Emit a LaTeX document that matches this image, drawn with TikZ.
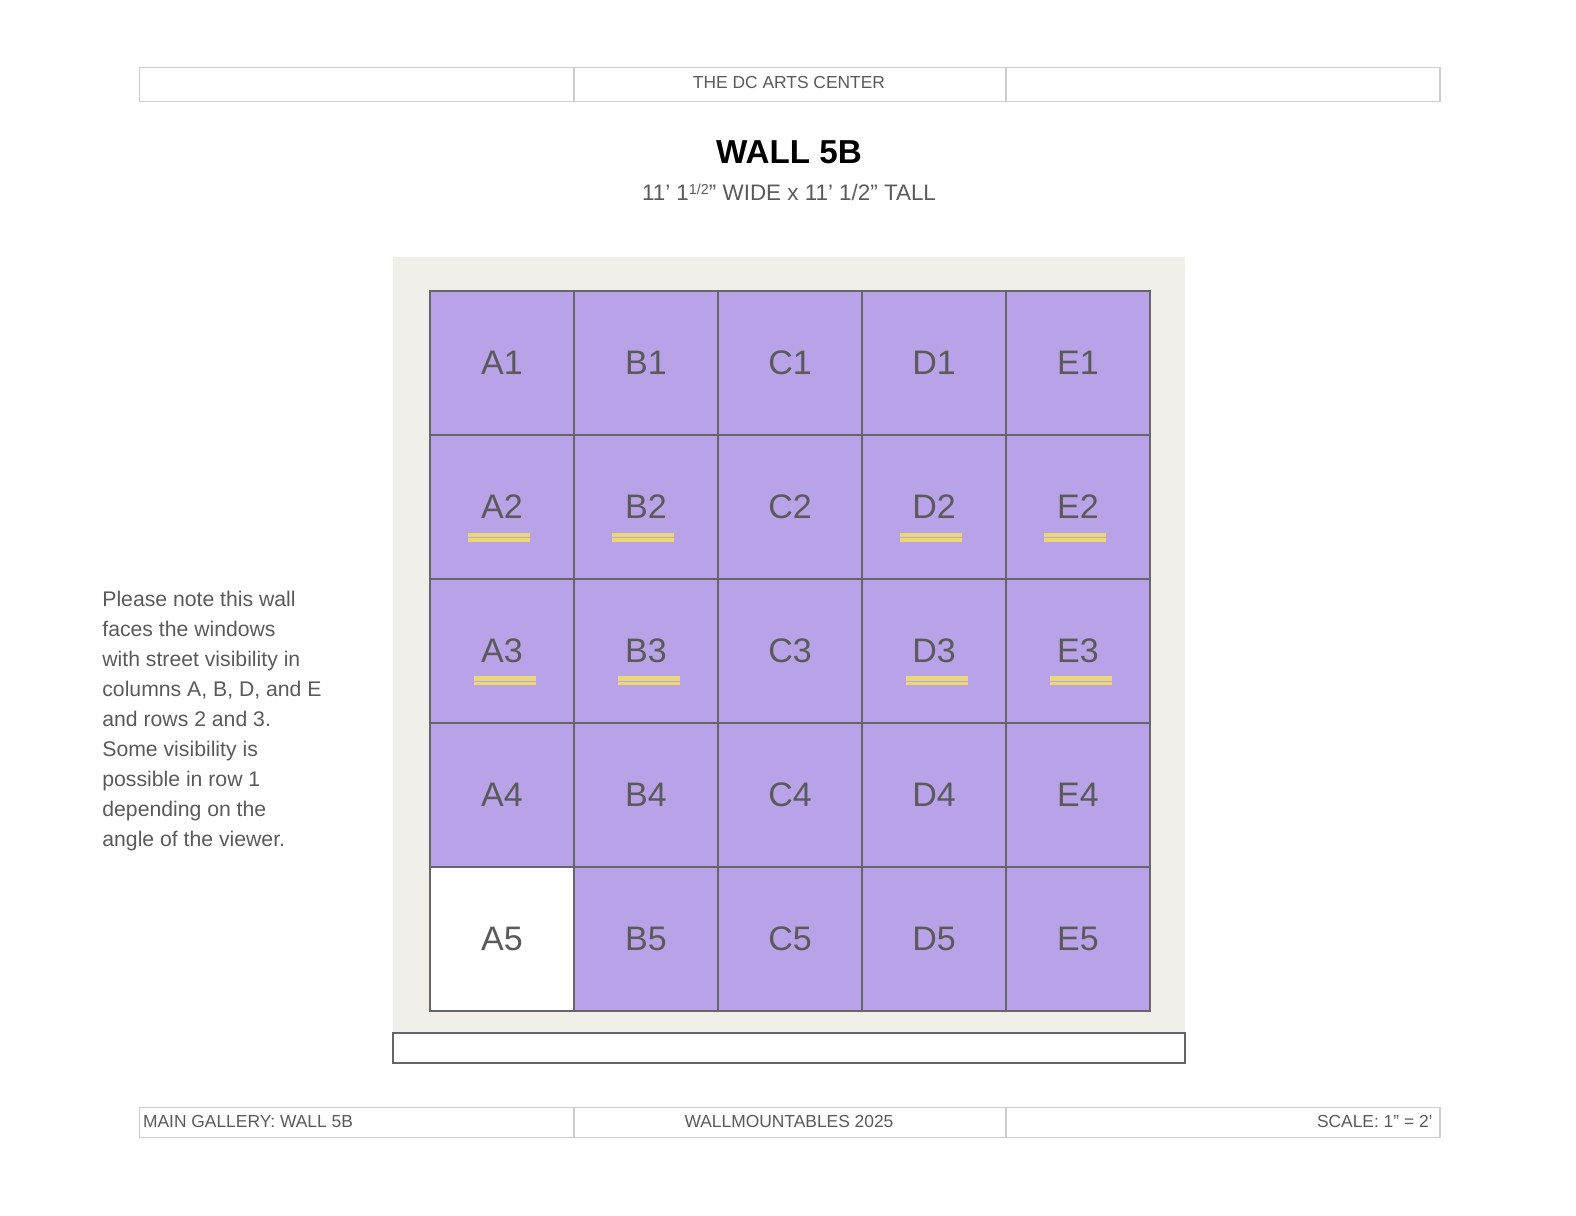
\documentclass[tikz,border=0pt]{standalone}
\usepackage{fontspec}
\setmainfont{Liberation Sans}
\definecolor{wallbg}{HTML}{F0EFEA}
\definecolor{cellfill}{HTML}{B8A2E8}
\definecolor{cellline}{HTML}{666666}
\definecolor{textgray}{HTML}{5A5A5A}
\definecolor{rulegray}{HTML}{CDCDCD}
\definecolor{markyellow}{HTML}{ECD870}

\tikzset{
  cell/.style={draw=cellline,line width=1pt,fill=cellfill,minimum size=72pt,
    inner sep=0pt,text=textgray,font=\fontsize{17}{20}\selectfont},
  markbar/.style={fill=markyellow},
  tabline/.style={draw=rulegray,line width=0.75pt},
  tabtext/.style={text=textgray,font=\fontsize{8.7}{10}\selectfont,inner sep=0pt,anchor=base},
  titletext/.style={font=\bfseries\fontsize{16.6}{20}\selectfont,inner sep=0pt,anchor=base},
}

\begin{document}
\begin{tikzpicture}[x=0.5pt,y=-0.5pt]
\useasboundingbox (0,0) rectangle (1576,1216);

% header
\draw[tabline] (139.7,67.3) rectangle (1440,101.5);
\draw[tabline] (574,67.3) -- (574,101.5) (1006,67.3) -- (1006,101.5);
\node[tabtext] (venue) at (789,88) {THE DC ARTS CENTER};

\node[titletext] (title) at (789,163) {WALL 5B};
\node[tabtext,font=\fontsize{11.2}{13}\selectfont] (size) at (789,200)
  {11’ 1\raisebox{0.45ex}{\fontsize{7.2}{8}\selectfont 1/2}” WIDE x 11’ 1/2” TALL};

% wall
\fill[wallbg] (393,257) rectangle (1185,1033);
\draw[cellline,line width=1pt,fill=white] (393,1033) rectangle (1185,1063);

\foreach \col [count=\i from 0] in {A,B,C,D,E}
  \foreach \row in {1,...,5}{
    \def\cellcol{cellfill}
    \ifnum\i=0 \ifnum\row=5 \def\cellcol{white}\fi\fi
    \node[cell,fill=\cellcol] (\col\row) at ({502+144*\i},{219+144*\row}) {\col\row};
  }

% street visibility marks
\foreach \col in {A,B,D,E}{
  \fill[markbar] ([shift={(-34,26)}]\col2.center) rectangle ([shift={(28,30)}]\col2.center);
  \fill[markbar] ([shift={(-34,31)}]\col2.center) rectangle ([shift={(28,35)}]\col2.center);
  \fill[markbar] ([shift={(-28,25)}]\col3.center) rectangle ([shift={(34,29.5)}]\col3.center);
  \fill[markbar] ([shift={(-28,30.5)}]\col3.center) rectangle ([shift={(34,34)}]\col3.center);
}

\node[anchor=north west,align=left,text=textgray,inner sep=0pt,
  font=\fontsize{10.6}{15}\selectfont] (note) at (102,591)
  {Please note this wall\\faces the windows\\with street visibility in\\columns A, B, D, and E\\
   and rows 2 and 3.\\Some visibility is\\possible in row 1\\depending on the\\angle of the viewer.};

% footer
\draw[tabline] (139.7,1107.5) rectangle (1440,1137.6);
\draw[tabline] (574,1107.5) -- (574,1137.6) (1006,1107.5) -- (1006,1137.6);
\node[tabtext,anchor=base west] (gallery) at (142.7,1127) {MAIN GALLERY: WALL 5B};
\node[tabtext] (event) at (789,1127) {WALLMOUNTABLES 2025};
\node[tabtext,anchor=base east] (scale) at (1433,1127) {SCALE: 1” = 2’};
\end{tikzpicture}
\end{document}
